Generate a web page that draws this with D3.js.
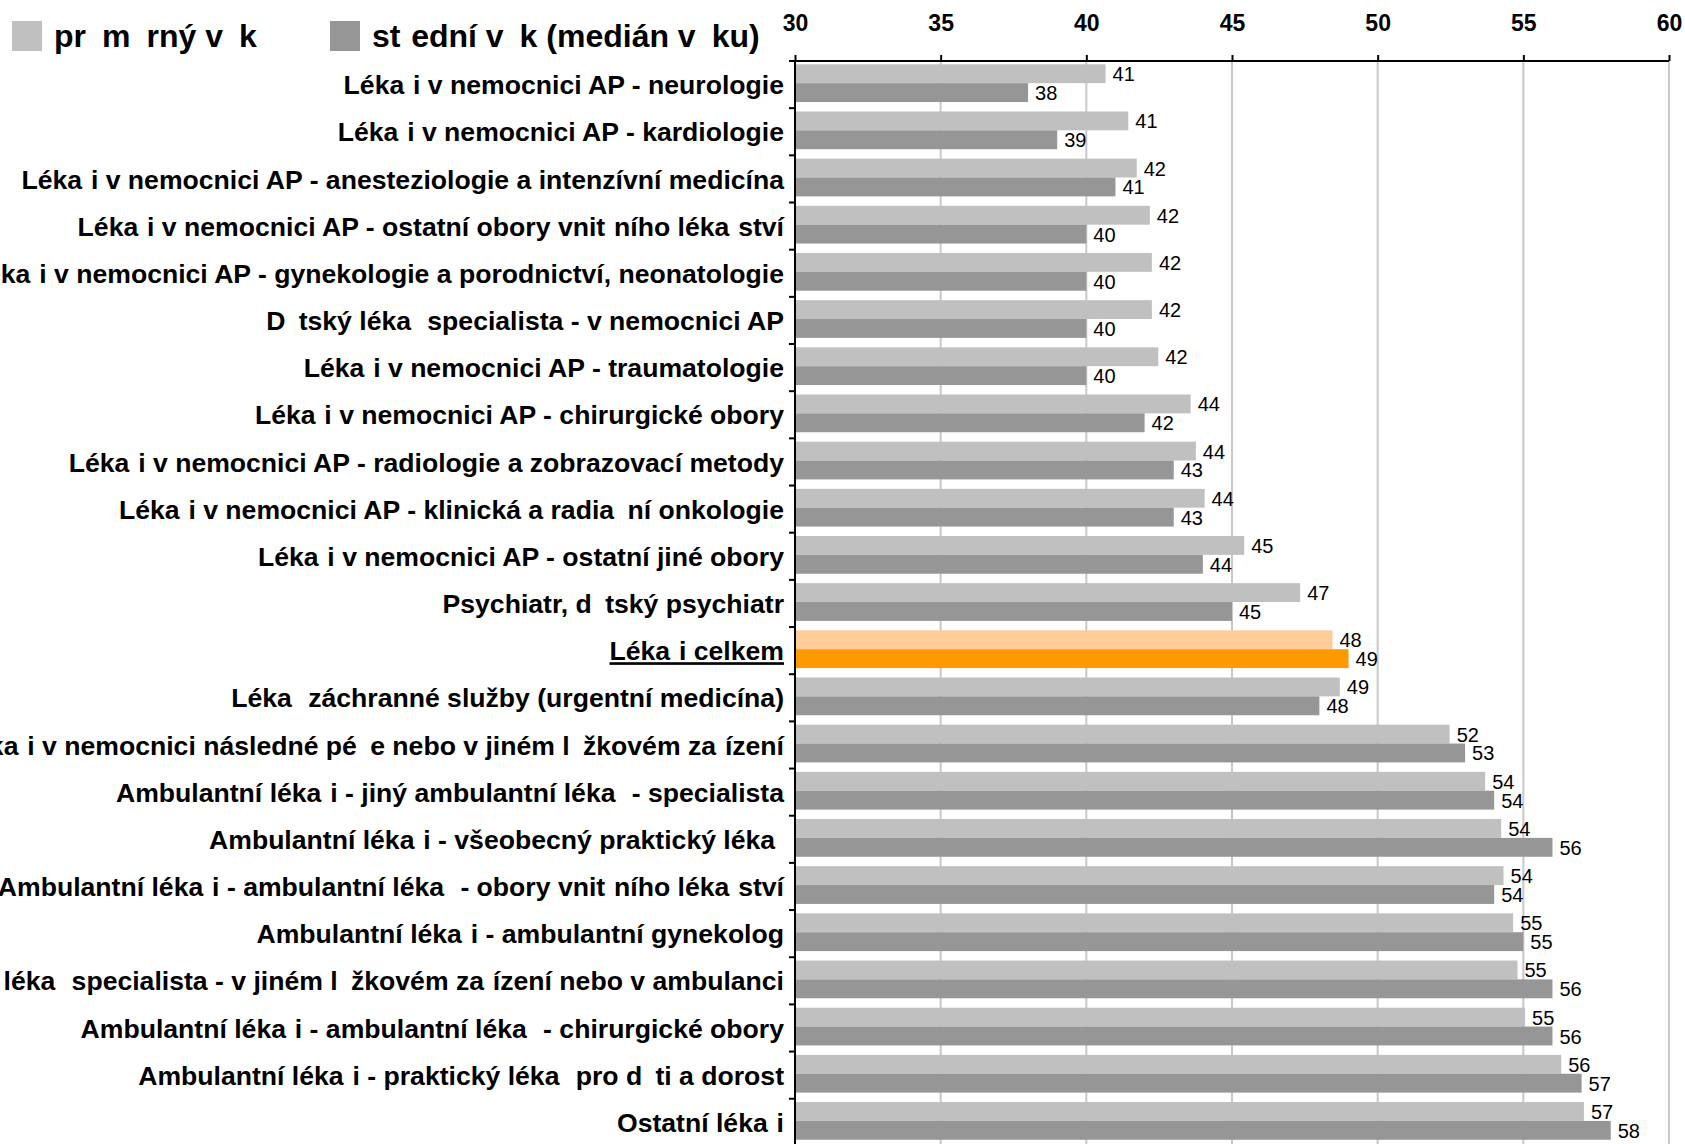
<!DOCTYPE html>
<html>
<head>
<meta charset="utf-8">
<script src="https://cdn.jsdelivr.net/npm/d3@7"></script>
<style>
  html, body { margin: 0; padding: 0; background: #fff; }
  svg { display: block; font-family: "Liberation Sans", Arial, sans-serif; }
</style>
</head>
<body>
<svg id="chart" width="1685" height="1144"></svg>
<script>
// ---------------- data ----------------
const categories = [
  "Lékaři v nemocnici AP - neurologie",
  "Lékaři v nemocnici AP - kardiologie",
  "Lékaři v nemocnici AP - anesteziologie a intenzívní medicína",
  "Lékaři v nemocnici AP - ostatní obory vnitřního lékařství",
  "Lékaři v nemocnici AP - gynekologie a porodnictví, neonatologie",
  "Dětský lékař specialista - v nemocnici AP",
  "Lékaři v nemocnici AP - traumatologie",
  "Lékaři v nemocnici AP - chirurgické obory",
  "Lékaři v nemocnici AP - radiologie a zobrazovací metody",
  "Lékaři v nemocnici AP - klinická a radiační onkologie",
  "Lékaři v nemocnici AP - ostatní jiné obory",
  "Psychiatr, dětský psychiatr",
  "Lékaři celkem",
  "Lékař záchranné služby (urgentní medicína)",
  "Lékaři v nemocnici následné péče nebo v jiném lůžkovém zařízení",
  "Ambulantní lékaři - jiný ambulantní lékař - specialista",
  "Ambulantní lékaři - všeobecný praktický lékař",
  "Ambulantní lékaři - ambulantní lékař - obory vnitřního lékařství",
  "Ambulantní lékaři - ambulantní gynekolog",
  "Dětský lékař specialista - v jiném lůžkovém zařízení nebo v ambulanci",
  "Ambulantní lékaři - ambulantní lékař - chirurgické obory",
  "Ambulantní lékaři - praktický lékař pro děti a dorost",
  "Ostatní lékaři"
];
const averageAge = [40.66, 41.44, 41.73, 42.18, 42.25, 42.25, 42.47, 43.58, 43.76, 44.06, 45.42, 47.34,
                    48.45, 48.7, 52.47, 53.69, 54.24, 54.32, 54.65, 54.8, 55.06, 56.3, 57.08];
const medianAge  = [38, 39, 41, 40, 40, 40, 40, 42, 43, 43, 44, 45,
                    49, 48, 53, 54, 56, 54, 55, 56, 56, 57, 58];
const averageLabels = ["41","41","42","42","42","42","42","44","44","44","45","47",
                       "48","49","52","54","54","54","55","55","55","56","57"];
const medianLabels  = ["38","39","41","40","40","40","40","42","43","43","44","45",
                       "49","48","53","54","56","54","55","56","56","57","58"];
const seriesNames = ["průměrný věk", "střední věk (medián věku)"];
const tickValues = [30, 35, 40, 45, 50, 55, 60];
const totalCategory = "Lékaři celkem";

// The original chart's font lacked some Czech glyphs; they render as blanks of similar width.
function shown(s) {
  return s.replace(/ř/g, "\u2004").replace(/[ěůčďťňĚŮČŘ]/g, "\u2002");
}

// ---------------- layout ----------------
const svg = d3.select("#chart");
const x = d3.scaleLinear().domain([30, 60]).range([795, 1669]);
const y = d3.scaleBand().domain(categories).range([61, 61 + 23 * 47.17]).padding(0);
const bw = y.bandwidth();
const barH = bw * 0.4;
const barOff = bw * 0.07;

const colors = {
  avg: "#c0c0c0", med: "#969696",
  avgHi: "#ffcc99", medHi: "#ff9900"
};

// gridlines
svg.append("g").selectAll("line")
  .data(tickValues.filter(v => v > 30))
  .join("line")
  .attr("x1", d => x(d)).attr("x2", d => x(d))
  .attr("y1", 61).attr("y2", 1146)
  .attr("stroke", "#c8c8c8").attr("stroke-width", 2);

const rows = categories.map((c, i) => ({
  c, avg: averageAge[i], med: medianAge[i],
  avgL: averageLabels[i], medL: medianLabels[i], hi: c === totalCategory
}));

// bars
const g = svg.append("g");
g.selectAll("rect.avg").data(rows).join("rect")
  .attr("class", "avg")
  .attr("x", x(30)).attr("y", d => y(d.c) + barOff)
  .attr("width", d => x(d.avg) - x(30)).attr("height", barH)
  .attr("fill", d => d.hi ? colors.avgHi : colors.avg);
g.selectAll("rect.med").data(rows).join("rect")
  .attr("class", "med")
  .attr("x", x(30)).attr("y", d => y(d.c) + barOff + barH)
  .attr("width", d => x(d.med) - x(30)).attr("height", barH)
  .attr("fill", d => d.hi ? colors.medHi : colors.med);

// value labels
g.selectAll("text.avgl").data(rows).join("text")
  .attr("class", "avgl")
  .attr("x", d => x(d.avg) + 7).attr("y", d => y(d.c) + barOff + barH / 2 + 7.5)
  .attr("font-size", 20).attr("fill", "#000")
  .text(d => d.avgL);
g.selectAll("text.medl").data(rows).join("text")
  .attr("class", "medl")
  .attr("x", d => x(d.med) + 7).attr("y", d => y(d.c) + barOff + barH * 1.5 + 7.5)
  .attr("font-size", 20).attr("fill", "#000")
  .text(d => d.medL);

// top axis
const topAxis = d3.axisTop(x).tickValues(tickValues).tickSize(6).tickPadding(24).tickFormat(d3.format("d"));
const ta = svg.append("g").attr("transform", "translate(0,61)").call(topAxis);
ta.select(".domain").remove();
ta.append("line").attr("x1", 789).attr("x2", x(60)).attr("y1", 0).attr("y2", 0)
  .attr("stroke", "#000").attr("stroke-width", 2);
ta.selectAll(".tick line").attr("stroke", "#000").attr("stroke-width", 2);
ta.selectAll(".tick text").attr("font-size", 23).attr("font-weight", "bold")
  .attr("font-family", "Liberation Sans, Arial, sans-serif").attr("fill", "#000");

// left axis
const leftAxis = d3.axisLeft(y).tickSize(0).tickPadding(11).tickFormat(d => shown(d));
const la = svg.append("g").attr("transform", "translate(795,0)").call(leftAxis);
la.select(".domain").remove();
la.selectAll(".tick text").attr("font-size", 26.6).attr("font-weight", "bold")
  .attr("font-family", "Liberation Sans, Arial, sans-serif").attr("fill", "#000")
  .attr("dy", "0.36em")
  .style("text-decoration", d => d === totalCategory ? "underline" : null);
la.append("line").attr("x1", 0).attr("x2", 0).attr("y1", 61).attr("y2", 1146)
  .attr("stroke", "#000").attr("stroke-width", 2);
la.selectAll("line.cat").data(categories.slice(1)).join("line")
  .attr("class", "cat")
  .attr("x1", -6).attr("x2", 0).attr("y1", d => y(d)).attr("y2", d => y(d))
  .attr("stroke", "#000").attr("stroke-width", 2);

// legend
const legend = svg.append("g");
const legendX = [12, 330];
const legendColors = [colors.avg, colors.med];
seriesNames.forEach((name, i) => {
  legend.append("rect").attr("x", legendX[i]).attr("y", 21).attr("width", 30).attr("height", 30)
    .attr("fill", legendColors[i]);
  legend.append("text").attr("x", legendX[i] + 42).attr("y", 47)
    .attr("font-size", 32).attr("font-weight", "bold").attr("fill", "#000")
    .text(shown(name));
});
</script>
</body>
</html>
